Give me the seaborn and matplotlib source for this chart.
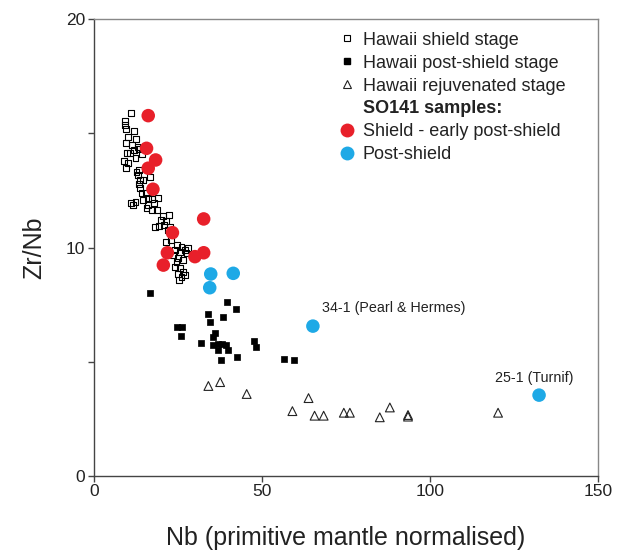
import numpy as np
import pandas as pd
import matplotlib
matplotlib.use("Agg")
import matplotlib.pyplot as plt
from matplotlib.lines import Line2D
from matplotlib.ticker import MultipleLocator
import seaborn as sns

# %% Data
shield_nb = [11.0, 9.2, 9.4, 9.7, 11.9, 10.2, 12.5, 9.7, 11.5, 13.0, 9.9, 10.7, 12.0, 13.5,
             14.3, 8.9, 10.2, 12.4, 9.7, 12.7, 13.2, 13.5, 13.7, 14.7, 16.7, 13.4, 13.7, 14.2,
             15.5, 11.2, 12.4, 11.7, 14.7, 16.2, 17.4, 19.1, 16.2, 17.9, 15.7, 17.2, 18.7,
             20.6, 22.4, 20.1, 21.4, 18.2, 19.4, 20.8, 22.1, 22.6, 21.6, 23.1, 24.8, 26.1,
             24.1, 25.6, 27.1, 28.1, 27.6, 23.6, 25.1, 26.6, 24.6, 24.1, 25.6, 26.6, 25.1,
             26.1, 25.4, 27.1]
shield_zrnb = [15.90, 15.55, 15.37, 15.17, 15.10, 14.85, 14.73, 14.56, 14.49, 14.40, 14.15,
               14.12, 14.25, 14.30, 14.10, 13.79, 13.68, 13.90, 13.46, 13.32, 13.17, 13.39,
               12.95, 12.95, 13.07, 12.78, 12.59, 12.37, 12.37, 11.96, 12.00, 11.86, 12.08,
               12.15, 12.11, 12.15, 11.86, 11.93, 11.72, 11.64, 11.64, 11.38, 11.42, 11.20,
               11.17, 10.91, 10.94, 10.98, 10.77, 10.91, 10.25, 10.33, 10.11, 10.03, 9.89,
               9.82, 9.89, 9.96, 9.75, 9.67, 9.53, 9.45, 9.38, 9.16, 9.09, 8.94, 8.84, 8.70,
               8.58, 8.80]

post_nb = [16.7, 39.7, 42.2, 33.9, 34.5, 38.5, 24.9, 26.3, 25.9, 36.2, 35.5, 31.8, 35.5,
           37.0, 38.2, 39.3, 37.0, 39.8, 37.8, 42.5, 47.6, 48.2, 56.7, 59.5]
post_zrnb = [8.00, 7.60, 7.32, 7.10, 6.74, 6.97, 6.52, 6.52, 6.13, 6.27, 6.10, 5.82, 5.73,
             5.76, 5.79, 5.73, 5.51, 5.51, 5.06, 5.22, 5.91, 5.63, 5.13, 5.09]

rejuv_nb = [34.1, 37.6, 45.5, 63.9, 59.1, 65.7, 68.4, 74.4, 76.2, 85.1, 88.1, 93.5, 93.5, 120.3]
rejuv_zrnb = [3.94, 4.11, 3.59, 3.41, 2.84, 2.64, 2.64, 2.77, 2.77, 2.57, 3.00, 2.67, 2.60, 2.77]

so141_shield_nb = [16.2, 15.7, 18.4, 16.2, 17.6, 32.7, 23.4, 21.9, 32.7, 30.1, 20.7]
so141_shield_zrnb = [15.77, 14.34, 13.83, 13.47, 12.55, 11.25, 10.65, 9.77, 9.77, 9.60, 9.23]

so141_post_nb = [34.8, 41.5, 34.5, 65.2, 132.5]
so141_post_zrnb = [8.84, 8.87, 8.24, 6.56, 3.54]

annot_labels = ["34-1 (Pearl & Hermes)", "25-1 (Turnif)"]
annot_pos = [(67.9, 7.35), (119.3, 4.29)]

legend_labels = ["Hawaii shield stage", "Hawaii post-shield stage", "Hawaii rejuvenated stage",
                 "SO141 samples:", "Shield - early post-shield", "Post-shield"]

RED = "#e8202a"
BLUE = "#1ea9e6"

# %% Plot
sns.set_style("white")
plt.rcParams["font.family"] = ["Liberation Sans", "DejaVu Sans"]

fig = plt.figure(figsize=(6.17, 5.5), dpi=100)
ax = fig.add_axes([0.152, 0.1345, 0.817, 0.831])

sns.scatterplot(x=shield_nb, y=shield_zrnb, marker="s", s=18, color="none",
                edgecolor="black", linewidth=0.8, ax=ax, zorder=2)
sns.scatterplot(x=post_nb, y=post_zrnb, marker="s", s=22, color="black",
                edgecolor="black", linewidth=0.5, ax=ax, zorder=2)
sns.scatterplot(x=rejuv_nb, y=rejuv_zrnb, marker="^", s=40, color="none",
                edgecolor="#222222", linewidth=0.8, ax=ax, zorder=2)
sns.scatterplot(x=so141_shield_nb, y=so141_shield_zrnb, marker="o", s=95, color=RED,
                edgecolor="none", ax=ax, zorder=3)
sns.scatterplot(x=so141_post_nb, y=so141_post_zrnb, marker="o", s=95, color=BLUE,
                edgecolor="none", ax=ax, zorder=3)

for lab, (px, py) in zip(annot_labels, annot_pos):
    ax.text(px, py, lab, fontsize=10.3, color="#222222", va="center", ha="left")

ax.set_xlim(0, 150)
ax.set_ylim(0, 20)
ax.set_xticks([0, 50, 100, 150])
ax.set_yticks([0, 10, 20])
ax.yaxis.set_minor_locator(MultipleLocator(5))
ax.tick_params(axis="both", which="both", direction="out", length=4, width=1,
               color="#444444", labelsize=12.5, labelcolor="#222222", pad=2,
               left=True, bottom=True)
for side in ["left", "bottom"]:
    ax.spines[side].set_color("#444444")
    ax.spines[side].set_linewidth(1.0)
for side in ["top", "right"]:
    ax.spines[side].set_color("#888888")
    ax.spines[side].set_linewidth(1.0)

ax.set_xlabel("Nb (primitive mantle normalised)", fontsize=18, color="#222222", labelpad=19)
ax.set_ylabel("Zr/Nb", fontsize=18, color="#222222", labelpad=14)

handles = [
    Line2D([], [], marker="s", ls="", mfc="none", mec="black", mew=0.8, ms=4.5),
    Line2D([], [], marker="s", ls="", mfc="black", mec="black", ms=4.5),
    Line2D([], [], marker="^", ls="", mfc="none", mec="#222222", mew=0.8, ms=6),
    Line2D([], [], ls="", marker=None),
    Line2D([], [], marker="o", ls="", mfc=RED, mec="none", ms=10),
    Line2D([], [], marker="o", ls="", mfc=BLUE, mec="none", ms=10),
]
leg = ax.legend(handles, legend_labels, loc="upper left", bbox_to_anchor=(0.462, 1.0),
                frameon=False, fontsize=13, handlelength=0.8, handletextpad=0.5,
                labelspacing=0.33, borderaxespad=0.3)
for t in leg.get_texts():
    t.set_color("#222222")
leg.get_texts()[3].set_fontweight("bold")

fig.savefig("out.png", dpi=100)
